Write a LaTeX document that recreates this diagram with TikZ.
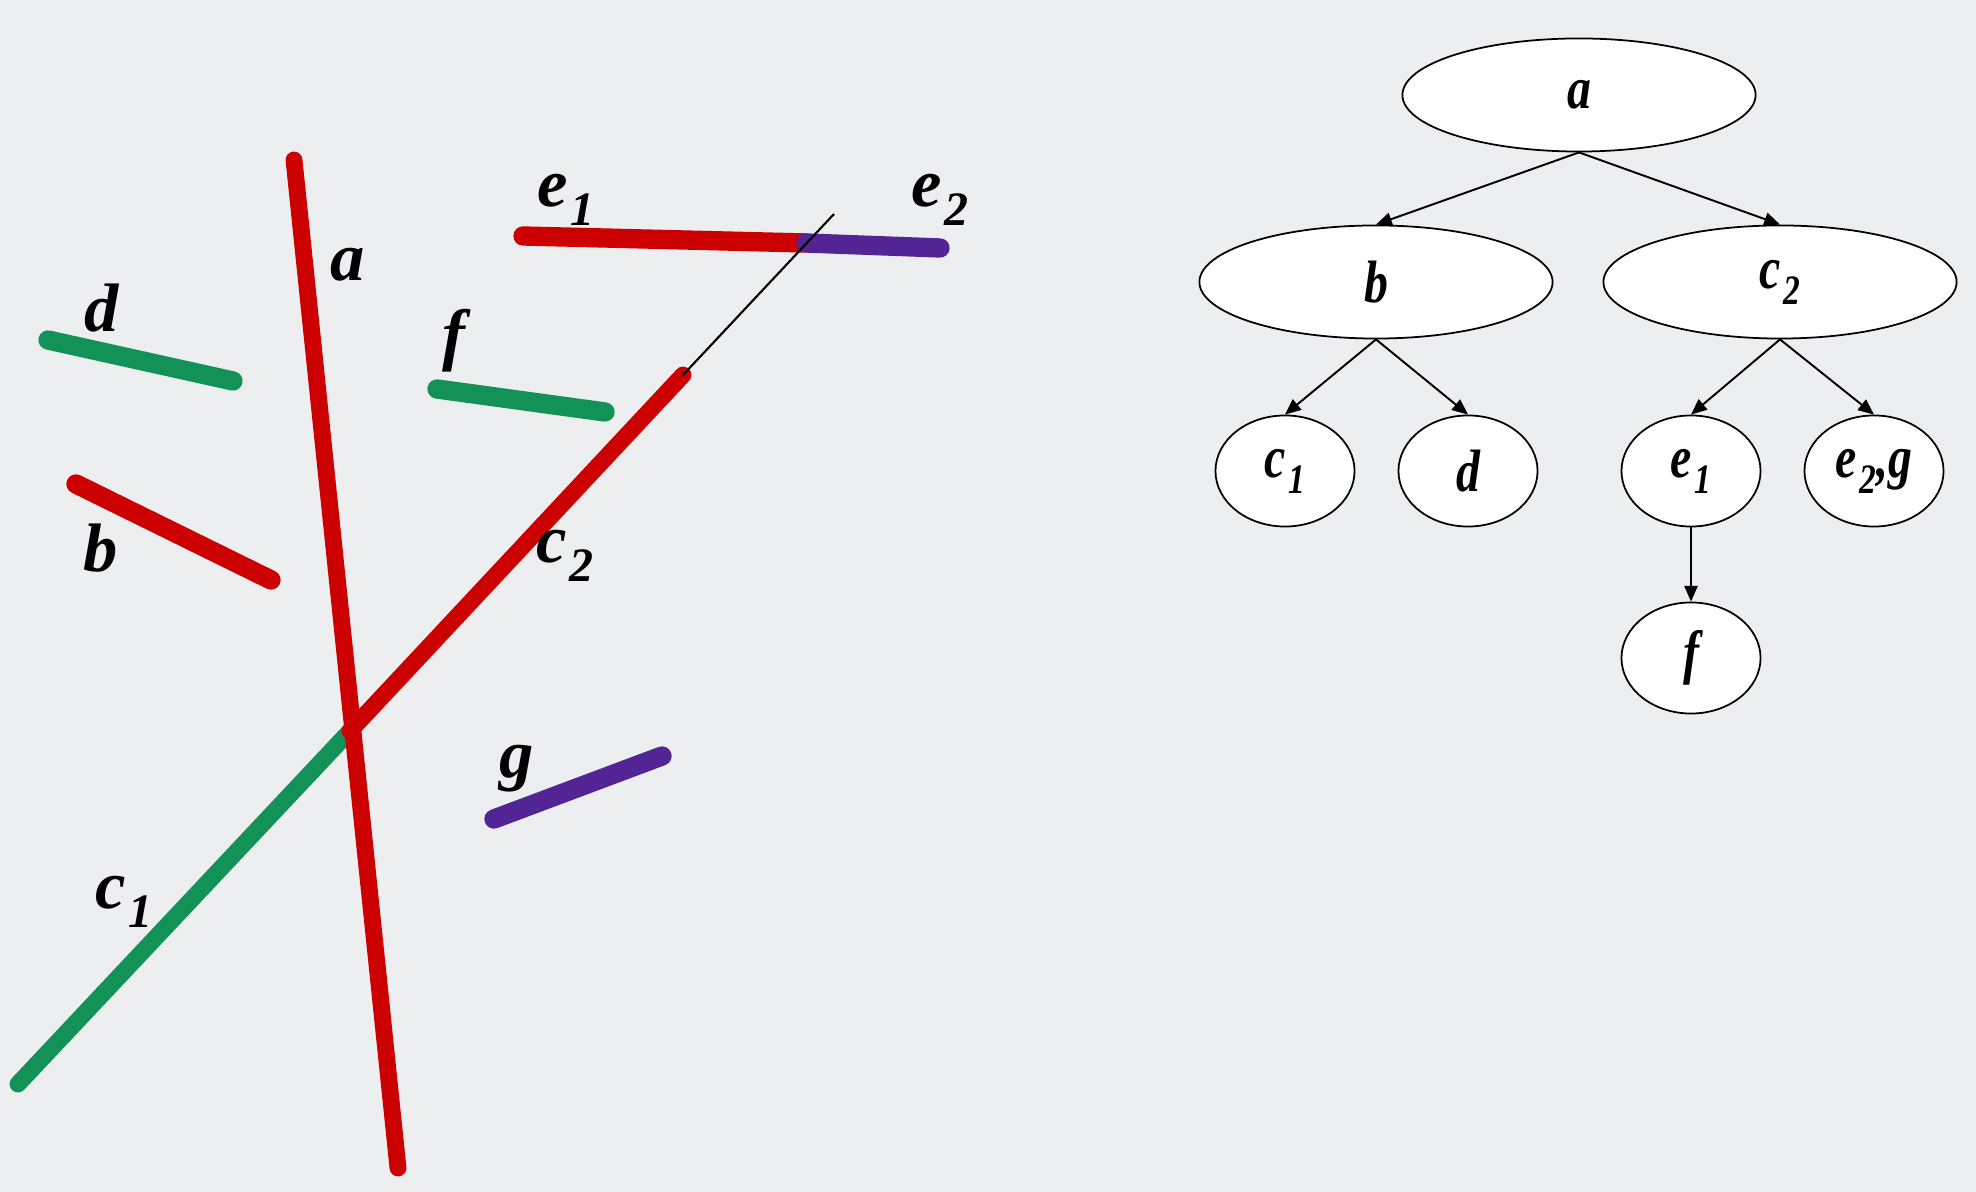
\documentclass[tikz,border=0pt]{standalone}
\usepackage{fontspec}
\setmainfont{Liberation Serif}
\newfontfamily\treefont{Liberation Serif}[FakeStretch=0.8]
\usetikzlibrary{arrows.meta,shapes.geometric,positioning}
\definecolor{segred}{RGB}{204,0,0}
\definecolor{seggreen}{RGB}{18,146,86}
\definecolor{segpurple}{RGB}{82,36,150}
\definecolor{bgcol}{RGB}{237,238,240}
\newcommand{\lowidx}[1]{\kern0.8pt\raisebox{-0.27em}{\scalebox{0.7}{#1}}}

\begin{document}
\begin{tikzpicture}[x=0.01cm,y=-0.01cm,
  seg/.style={line width=5.5pt,line cap=round},
  longseg/.style={line width=4.8pt,line cap=round},
  lbl/.style={font=\fontsize{19.5}{22}\selectfont\bfseries\itshape,inner sep=0pt},
  tnode/.style={ellipse,draw,fill=white,line width=0.5pt,inner sep=0pt,
               font=\treefont\fontsize{17}{20}\selectfont\bfseries\itshape},
  bignode/.style={tnode,minimum width=3.53cm,minimum height=1.13cm},
  smallnode/.style={tnode,minimum width=1.39cm,minimum height=1.11cm},
  arrow/.style={-{Triangle[length=4.5pt,width=3.8pt]},line width=0.55pt}]
\fill[bgcol] (0,0) rectangle (1976,1192);
\useasboundingbox (0,0) rectangle (1976,1192);

% segments
\coordinate (a1) at (294,160);  \coordinate (a2) at (398,1168);
\coordinate (c1s) at (18,1084); \coordinate (cx) at (350,731);
\coordinate (c2e) at (683,375); \coordinate (c2t) at (834,214);
\coordinate (e1s) at (523,236); \coordinate (ex) at (806,243);
\coordinate (e2e) at (940,248);
\coordinate (d1) at (48,340);   \coordinate (d2) at (233,381);
\coordinate (f1) at (437,389);  \coordinate (f2) at (605,412);
\coordinate (b1) at (76,484);   \coordinate (b2) at (271,580);
\coordinate (g1) at (494,819);  \coordinate (g2) at (662,756);

\draw[longseg,seggreen] (c1s) -- (cx);
\draw[longseg,segred] (cx) -- (c2e);
\draw[longseg,segred] (a1) -- (a2);
\draw[seg,segred] (e1s) -- (ex);
\draw[seg,segpurple] (ex) -- (e2e);
\draw[line width=0.6pt] (c2e) -- (c2t);
\draw[seg,seggreen] (d1) -- (d2);
\draw[seg,seggreen] (f1) -- (f2);
\draw[seg,segred] (b1) -- (b2);
\draw[seg,segpurple] (g1) -- (g2);

\node[lbl] (la)  at (348,265) {a};
\node[lbl] (le1) at (566,200) {e\lowidx{1}};
\node[lbl] (le2) at (940,200) {e\lowidx{2}};
\node[lbl] (ld)  at (102,308) {d};
\node[lbl] (lf)  at (454,341) {f};
\node[lbl] (lb)  at (101,548) {b};
\node[lbl] (lc2) at (565,556) {c\lowidx{2}};
\node[lbl] (lg)  at (517,769) {g};
\node[lbl] (lc1) at (124,902) {c\lowidx{1}};

% tree
\node[bignode]   (ta)  at (1579,95)  {a};
\node[bignode]   (tb)  at (1376,282) {b};
\node[bignode]   (tc2) at (1780,282) {c\lowidx{2}};
\node[smallnode] (tc1) at (1285,471) {c\lowidx{1}};
\node[smallnode] (td)  at (1468,471) {d};
\node[smallnode] (te1) at (1691,471) {e\lowidx{1}};
\node[smallnode] (te2) at (1874,471) {e\lowidx{2},g};
\node[smallnode] (tf)  at (1691,658) {f};

\draw[arrow] (ta.south)--(tb.north);
\draw[arrow] (ta.south)--(tc2.north);
\draw[arrow] (tb.south)--(tc1.north);
\draw[arrow] (tb.south)--(td.north);
\draw[arrow] (tc2.south)--(te1.north);
\draw[arrow] (tc2.south)--(te2.north);
\draw[arrow] (te1.south)--(tf.north);
\end{tikzpicture}
\end{document}
